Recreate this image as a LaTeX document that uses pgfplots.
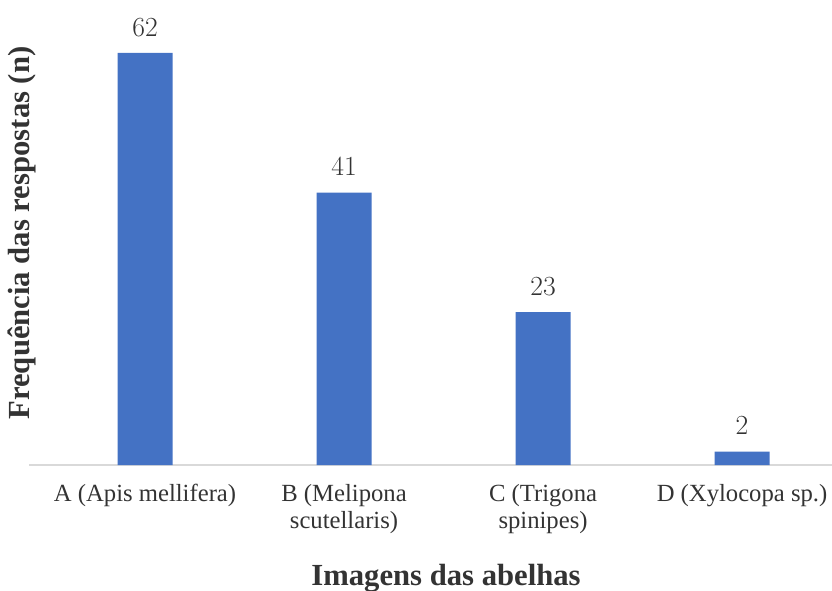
\documentclass[border=0pt]{standalone}
\usepackage{fontspec}
\setmainfont{Liberation Serif}
\usepackage{pgfplots}
\pgfplotsset{compat=1.18}
\definecolor{barblue}{HTML}{4472C4}
\definecolor{axgray}{HTML}{D9D9D9}
\begin{document}
\begin{tikzpicture}[x=0.75pt,y=0.75pt]
\useasboundingbox (0,0) rectangle (832,590);
\begin{axis}[
  at={(29*0.75pt,125*0.75pt)}, anchor=south west,
  scale only axis,
  width=602.25pt, height=324pt,
  xmin=-0.583, xmax=3.452,
  ymin=0, ymax=65,
  axis line style={draw=none},
  axis y line=none,
  axis x line*=bottom,
  xtick={0,1,2,3},
  xticklabels={{A (Apis mellifera)},{B (Melipona\\scutellaris)},{C (Trigona\\spinipes)},{D (Xylocopa sp.)}},
  xticklabel style={align=center, font=\fontsize{18.5}{20.5}\selectfont, text=black!80, anchor=north, yshift=-11pt},
  major tick length=0pt,
  ybar, bar width=41.25pt,
  nodes near coords,
  every node near coord/.append style={font=\fontsize{21}{22}\selectfont, text=black!80, yshift=9pt},
  clip=false,
]
\draw[axgray, line width=1.5pt] (rel axis cs:0,0) -- (rel axis cs:1,0);
\addplot[fill=barblue, draw=none] coordinates {(0,62) (1,41) (2,23) (3,2)};
\end{axis}
\node[rotate=90, font=\bfseries\fontsize{23}{24}\selectfont, text=black!80] at (22,357) {Frequência das respostas (n)};
\node[font=\bfseries\fontsize{23}{24}\selectfont, text=black!80] at (446,12) {Imagens das abelhas};
\end{tikzpicture}
\end{document}
